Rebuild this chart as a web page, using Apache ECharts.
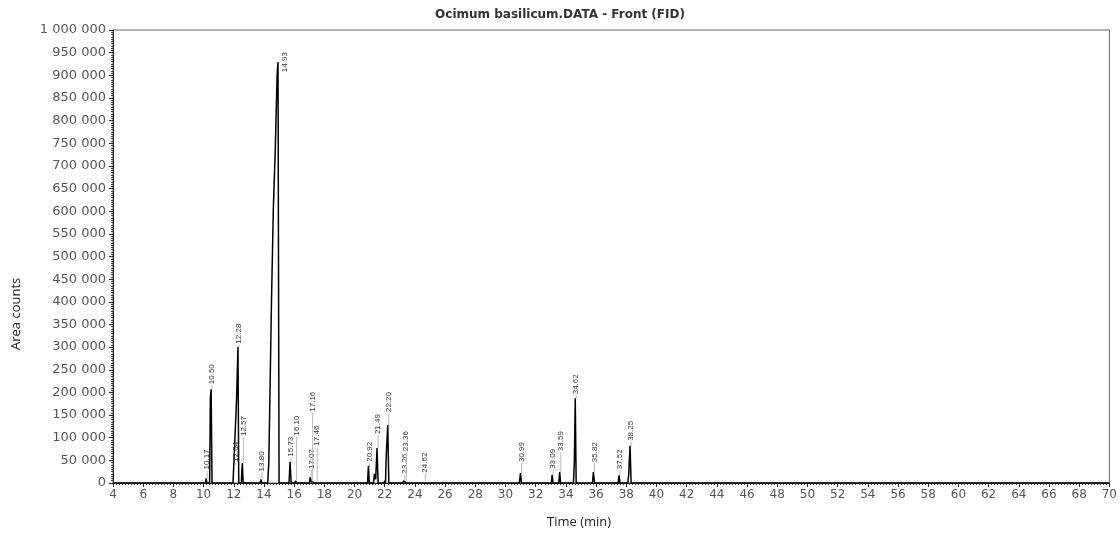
<!DOCTYPE html>
<html>
<head>
<meta charset="utf-8">
<script src="https://cdn.jsdelivr.net/npm/echarts@6/dist/echarts.min.js"></script>
<style>
  html, body { margin: 0; padding: 0; background: #fff; }
  #chart { width: 1120px; height: 538px; }
</style>
</head>
<body>
<div id="chart"></div>
<script>
// chromatogram trace, [time (min), area counts]
let traceEarly = [
    [4, 0], [5.95, 0], [6.0, 3000], [6.05, 0], [7.95, 0], [8.0, 3000], [8.05, 0],
    [10.12, 0], [10.17, 10000], [10.22, 0],
    [10.40, 0], [10.45, 188000], [10.50, 207000], [10.56, 0],
    [11.95, 0], [12.0, 40000], [12.04, 40000], [12.12, 42000], [12.18, 180000], [12.28, 301000], [12.33, 0],
    [12.50, 0], [12.54, 30000], [12.57, 44000], [12.62, 0],
    [13.25, 0], [13.3, 3000], [13.35, 0], [13.75, 0], [13.80, 8000], [13.86, 0]
];
let traceMain = [
    [14.25, 0], [14.32, 45000], [14.40, 200000], [14.50, 405000], [14.62, 604000],
    [14.75, 737000], [14.87, 900000], [14.93, 929000], [15.0, 0]
];
let traceMid = [
    [15.66, 0], [15.73, 47000], [15.80, 0], [16.05, 0], [16.10, 5000], [16.15, 0],
    [17.0, 0], [17.07, 13000], [17.12, 3000], [17.16, 5000], [17.22, 0],
    [17.42, 0], [17.46, 3000], [17.50, 0],
    [18.0, 0], [18.05, 2000], [18.1, 0], [19.0, 0], [19.05, 2000], [19.1, 0], [20.0, 0], [20.05, 2000], [20.1, 0],
    [20.86, 0], [20.92, 38000], [20.98, 0],
    [21.25, 0], [21.32, 20000], [21.40, 8000], [21.49, 77000], [21.56, 0],
    [21.95, 0], [22.0, 5000], [22.05, 0], [22.10, 62000], [22.20, 128000], [22.27, 0],
    [23.20, 0], [23.26, 5000], [23.31, 2000], [23.36, 4000], [23.42, 0],
    [24.57, 0], [24.62, 3000], [24.67, 0]
];
let traceLate = [
    [26.0, 0], [26.05, 2000], [26.1, 0], [27.0, 0], [27.05, 2000], [27.1, 0], [28.0, 0], [28.05, 2000], [28.1, 0],
    [30.92, 0], [30.99, 22000], [31.06, 0],
    [33.03, 0], [33.09, 18000], [33.15, 0],
    [33.53, 0], [33.59, 24000], [33.65, 0], [33.95, 0], [34.0, 3000], [34.05, 0],
    [34.50, 0], [34.56, 47000], [34.62, 187000], [34.68, 0],
    [35.76, 0], [35.82, 24000], [35.90, 0], [36.15, 0], [36.2, 3000], [36.25, 0],
    [37.46, 0], [37.52, 17000], [37.58, 0],
    [38.10, 0], [38.16, 18000], [38.25, 82000], [38.32, 0],
    [40.0, 0], [40.05, 2000], [40.1, 0], [44.0, 0], [44.05, 2000], [44.1, 0],
    [58.0, 0], [58.05, 2000], [58.1, 0], [70, 0]
];

// labelled retention times
let peakTimes = [10.17, 10.50, 12.04, 12.28, 12.57, 13.80, 14.93, 15.73, 16.10, 17.07, 17.16, 17.46,
    20.92, 21.49, 22.20, 23.26, 23.36, 24.62, 30.99, 33.09, 33.59, 34.62, 35.82, 37.52, 38.25];

// label lift above apex (px), layout only
let labelLift = {
    '10.17': 8, '10.50': 4, '12.04': 2, '12.28': 2, '12.57': 26, '13.80': 7, '15.73': 4,
    '16.10': 44, '17.07': 7, '17.16': 68, '17.46': 35, '20.92': 3, '21.49': 13, '22.20': 12,
    '23.26': 6, '23.36': 29, '24.62': 8, '30.99': 10, '33.09': 5, '33.59': 20, '34.62': 3,
    '35.82': 9, '37.52': 5, '38.25': 4
};

let trace = traceEarly.concat(traceMain, traceMid, traceLate);
let peaks = peakTimes.map(t => {
    let p = trace.find(d => Math.abs(d[0] - t) < 1e-6);
    return [t, p ? p[1] : 0];
});

let fmt = v => String(v).replace(/\B(?=(\d{3})+(?!\d))/g, ' ');

let chart = echarts.init(document.getElementById('chart'), null, { renderer: 'canvas' });

chart.setOption({
    animation: false,
    backgroundColor: '#fff',
    grid: { left: 113, right: 10, top: 30, bottom: 55, show: true, borderColor: '#666', borderWidth: 1 },
    xAxis: {
        type: 'value', min: 4, max: 70, interval: 2,
        axisLine: { lineStyle: { color: '#222' } },
        axisTick: { length: 4, lineStyle: { color: '#222' } },
        minorTick: { show: true, splitNumber: 10, length: 2, lineStyle: { color: '#444' } },
        axisLabel: { color: '#555', fontSize: 12, fontFamily: 'DejaVu Sans', margin: 6 },
        splitLine: { show: false }
    },
    yAxis: {
        type: 'value', min: 0, max: 1000000, interval: 50000,
        axisLine: { show: true, lineStyle: { color: '#222' } },
        axisTick: { show: true, length: 4, lineStyle: { color: '#222' } },
        minorTick: { show: true, splitNumber: 10, length: 2, lineStyle: { color: '#444' } },
        axisLabel: { color: '#555', fontSize: 13, fontFamily: 'DejaVu Sans', margin: 7, formatter: fmt },
        splitLine: { show: false }
    },
    graphic: [
        {
            type: 'text', x: 560, y: 9,
            style: { text: 'Ocimum basilicum.DATA - Front (FID)', fill: '#333', font: 'bold 12px "DejaVu Sans"', align: 'center' }
        },
        {
            type: 'text', left: 547, top: 516,
            style: { text: 'Time (min)', fill: '#222', font: '13px "Open Sans"' }
        },
        {
            type: 'text', x: 10, y: 350, rotation: Math.PI / 2,
            style: { text: 'Area counts', fill: '#222', font: '13px "Open Sans"', verticalAlign: 'top' }
        }
    ],
    series: [
        {
            type: 'line',
            data: trace,
            symbol: 'none',
            lineStyle: { color: '#000', width: 1.5 },
            z: 3
        },
        {
            type: 'custom',
            data: peaks,
            z: 4,
            renderItem: (params, api) => {
                let t = api.value(0);
                let pt = api.coord([t, api.value(1)]);
                let key = t.toFixed(2);
                let text = {
                    type: 'text',
                    rotation: Math.PI / 2,
                    style: { text: key, fill: '#333', font: '8px "Liberation Sans"', align: 'left', verticalAlign: 'middle' }
                };
                if (key === '14.93') {
                    text.x = pt[0] + 7;
                    text.y = pt[1] + 10;
                    return { type: 'group', children: [text] };
                }
                let lift = labelLift[key] || 4;
                text.x = pt[0] + 1;
                text.y = pt[1] - lift - 1;
                return {
                    type: 'group',
                    children: [
                        {
                            type: 'line',
                            shape: { x1: pt[0] + 1, y1: pt[1], x2: pt[0] + 1, y2: pt[1] - lift },
                            style: { stroke: '#bbb', lineWidth: 1 }
                        },
                        text
                    ]
                };
            }
        }
    ]
});
</script>
</body>
</html>
